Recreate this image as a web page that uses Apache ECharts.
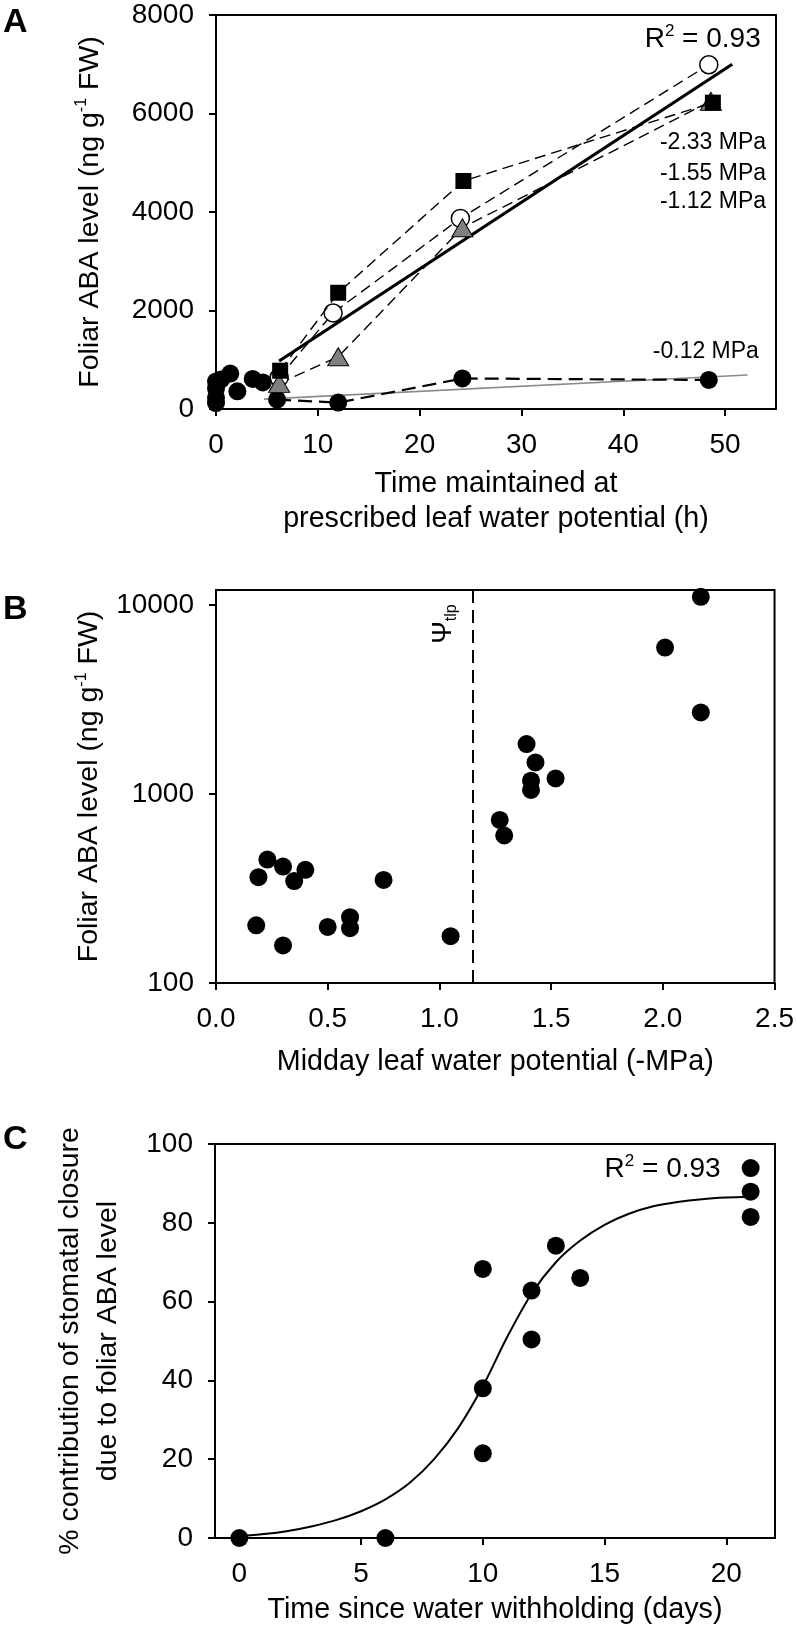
<!DOCTYPE html>
<html><head><meta charset="utf-8">
<script src="https://cdn.jsdelivr.net/npm/echarts@6/dist/echarts.min.js"></script>
<style>html,body{margin:0;padding:0;background:#fff}#c{width:797px;height:1630px}</style>
</head><body><div id="c"></div>
<script>
const FONT = '"Liberation Sans", Arial, sans-serif';

// ---------- Panel A data ----------
const aClusterX = [0, 0, 0, 0, 0.5, 1.4, 2.1, 3.6, 4.6];
const aClusterY = [120, 230, 420, 560, 600, 720, 360, 610, 540];
const aSqX = [6.3, 12, 24.3, 48.8];      // -2.33 MPa
const aSqY = [778, 2360, 4630, 6220];
const aOpenX = [6.2, 11.5, 24, 48.4];    // -1.55 MPa
const aOpenY = [640, 1950, 3870, 6990];
const aTriX = [6.2, 12, 24.2, 48.6];     // -1.12 MPa
const aTriY = [520, 1060, 3680, 6250];
const aLowX = [6, 12, 24.2, 48.4];       // -0.12 MPa
const aLowY = [190, 130, 620, 590];
const aFitX = [6.2, 50.7];
const aFitY = [975, 7000];
const aFitLowX = [4.7, 52.2];
const aFitLowY = [200, 690];
const aXTicks = [0, 10, 20, 30, 40, 50];
const aYTicks = [0, 2000, 4000, 6000, 8000];

// ---------- Panel B data ----------
const bX = [0.19, 0.23, 0.30, 0.35, 0.40, 0.75, 0.18, 0.30, 0.50, 0.60, 0.60, 1.05,
            1.27, 1.29, 1.39, 1.43, 1.41, 1.41, 1.52, 2.01, 2.17, 2.17];
const bY = [363, 450, 413, 346, 397, 351, 202, 158, 198, 223, 195, 177,
            729, 603, 1837, 1468, 1176, 1050, 1208, 5950, 11050, 2700];
const bTlp = 1.15;
const bXTicks = [0, 0.5, 1.0, 1.5, 2.0, 2.5];
const bYTicks = [100, 1000, 10000];

// ---------- Panel C data ----------
const cX = [0, 6, 10, 10, 10, 12, 12, 13, 14, 21, 21, 21];
const cY = [0, 0, 68.3, 38.0, 21.5, 62.8, 50.4, 74.2, 66.0, 93.9, 87.9, 81.5];
const cCurveX = [0, 1, 2, 3, 4, 5, 6, 7, 8, 9, 10, 11, 12, 13, 14, 15, 16, 17, 18, 19, 20, 21];
const cCurveY = [0.5, 1.0, 1.8, 3.0, 4.6, 6.8, 9.8, 14.0, 20.0, 28.0, 38.5, 51.0, 62.0, 70.0, 75.5, 79.5, 82.3, 84.2, 85.3, 86.0, 86.4, 86.6];
const cXTicks = [0, 5, 10, 15, 20];
const cYTicks = [0, 20, 40, 60, 80, 100];

const zip = (xs, ys) => xs.map((x, i) => [x, ys[i]]);

const chart = echarts.init(document.getElementById('c'), null, {renderer: 'canvas'});

const tickFont = {fontSize: 28, fontFamily: FONT, color: '#000'};
const axLine = {show: true, onZero: false, lineStyle: {color: '#000', width: 2}};
const axTick = (vals) => ({show: true, inside: false, length: 7, lineStyle: {color: '#000', width: 2}, customValues: vals});
const axLabel = (vals, margin, fmt) => Object.assign({show: true, margin: margin, customValues: vals,
  formatter: fmt || (v => String(v))}, tickFont);
const nameStyle = (fs, lh) => ({fontSize: fs, fontFamily: FONT, color: '#000', lineHeight: lh,
  rich: {s: {fontSize: 16, fontFamily: FONT, color: '#000', verticalAlign: 'top', lineHeight: 16}}});

const gridBase = {show: true, borderColor: '#000', borderWidth: 2, backgroundColor: 'transparent', containLabel: false};
const black = {color: '#000', opacity: 1};

const option = {
  animation: false,
  backgroundColor: '#fff',
  grid: [
    Object.assign({left: 216, top: 15, width: 560, height: 394}, gridBase),
    Object.assign({left: 216, top: 590, width: 559, height: 393}, gridBase),
    Object.assign({left: 215, top: 1144, width: 560, height: 394}, gridBase)
  ],
  xAxis: [
    {gridIndex: 0, type: 'value', min: 0, max: 55, splitLine: {show: false}, axisLine: axLine,
     axisTick: axTick(aXTicks), axisLabel: axLabel(aXTicks, 22),
     name: 'Time maintained at\nprescribed leaf water potential (h)', nameLocation: 'middle', nameGap: 58,
     nameTextStyle: nameStyle(28.7, 35)},
    {gridIndex: 1, type: 'value', min: 0, max: 2.5, splitLine: {show: false}, axisLine: axLine,
     axisTick: axTick(bXTicks), axisLabel: axLabel(bXTicks, 22, v => v.toFixed(1)),
     name: 'Midday leaf water potential (-MPa)', nameLocation: 'middle', nameGap: 63,
     nameTextStyle: nameStyle(28.7, 32)},
    {gridIndex: 2, type: 'value', min: -1, max: 22, splitLine: {show: false}, axisLine: axLine,
     axisTick: axTick(cXTicks), axisLabel: axLabel(cXTicks, 22),
     name: 'Time since water withholding (days)', nameLocation: 'middle', nameGap: 56,
     nameTextStyle: nameStyle(28.7, 32)}
  ],
  yAxis: [
    {gridIndex: 0, type: 'value', min: 0, max: 8000, interval: 2000, splitLine: {show: false}, axisLine: axLine,
     axisTick: axTick(aYTicks), axisLabel: axLabel(aYTicks, 22),
     name: 'Foliar ABA level (ng g{s|-1} FW)', nameLocation: 'middle', nameGap: 110, nameRotate: 90,
     nameTextStyle: nameStyle(28.5, 32)},
    {gridIndex: 1, type: 'log', logBase: 10, min: 100, max: 12000, splitLine: {show: false}, axisLine: axLine,
     axisTick: axTick(bYTicks), axisLabel: axLabel(bYTicks, 22),
     name: 'Foliar ABA level (ng g{s|-1} FW)', nameLocation: 'middle', nameGap: 110, nameRotate: 90,
     nameTextStyle: nameStyle(28.5, 32)},
    {gridIndex: 2, type: 'value', min: 0, max: 100, interval: 20, splitLine: {show: false}, axisLine: axLine,
     axisTick: axTick(cYTicks), axisLabel: axLabel(cYTicks, 22),
     name: '% contribution of stomatal closure\ndue to foliar ABA level', nameLocation: 'middle', nameGap: 88, nameRotate: 90,
     nameTextStyle: nameStyle(28.5, 38)}
  ],
  series: [
    // Panel A fit lines
    {type: 'line', xAxisIndex: 0, yAxisIndex: 0, data: zip(aFitLowX, aFitLowY), symbol: 'none',
     lineStyle: {color: '#8a8a8a', width: 1.6}, z: 1},
    {type: 'line', xAxisIndex: 0, yAxisIndex: 0, data: zip(aFitX, aFitY), symbol: 'none',
     lineStyle: {color: '#000', width: 3.2}, z: 3},
    // -0.12 MPa
    {type: 'line', xAxisIndex: 0, yAxisIndex: 0, data: zip(aLowX, aLowY), symbol: 'circle', symbolSize: 18,
     itemStyle: black, lineStyle: {color: '#000', width: 2.2, type: [14, 7]}, z: 4},
    // -1.55 MPa open circles
    {type: 'line', xAxisIndex: 0, yAxisIndex: 0, data: zip(aOpenX, aOpenY), symbol: 'circle', symbolSize: 18,
     itemStyle: {color: '#fff', borderColor: '#000', borderWidth: 1.5, opacity: 1}, lineStyle: {color: '#000', width: 1.4, type: [11, 6]}, z: 4},
    // -1.12 MPa triangles
    {type: 'line', xAxisIndex: 0, yAxisIndex: 0, data: zip(aTriX, aTriY), symbol: 'triangle', symbolSize: [21, 18],
     itemStyle: {color: '#808080', borderColor: '#000', borderWidth: 1, opacity: 1}, lineStyle: {color: '#000', width: 1.4, type: [11, 6]}, z: 4},
    // -2.33 MPa squares
    {type: 'line', xAxisIndex: 0, yAxisIndex: 0, data: zip(aSqX, aSqY), symbol: 'rect', symbolSize: 16,
     itemStyle: black, lineStyle: {color: '#000', width: 1.4, type: [11, 6]}, z: 5},
    // cluster near 0 h
    {type: 'scatter', xAxisIndex: 0, yAxisIndex: 0, data: zip(aClusterX, aClusterY), symbol: 'circle', symbolSize: 18,
     itemStyle: black, z: 5},
    // Panel B
    {type: 'scatter', xAxisIndex: 1, yAxisIndex: 1, data: zip(bX, bY), symbol: 'circle', symbolSize: 18,
     itemStyle: black, z: 5,
     markLine: {silent: true, symbol: 'none', label: {show: false},
       lineStyle: {color: '#000', width: 2, type: [13, 7]}, data: [{xAxis: bTlp}]}},
    // Panel C
    {type: 'line', xAxisIndex: 2, yAxisIndex: 2, data: zip(cCurveX, cCurveY), symbol: 'none', smooth: 0.3,
     lineStyle: {color: '#000', width: 2}, z: 3},
    {type: 'scatter', xAxisIndex: 2, yAxisIndex: 2, data: zip(cX, cY), symbol: 'circle', symbolSize: 18,
     itemStyle: black, z: 5}
  ]
};
chart.setOption(option);

// ---------- annotations ----------
const px = (g, p) => chart.convertToPixel({gridIndex: g}, p);
const richR = {
  n: {fontSize: 28, fontFamily: FONT, fill: '#000', lineHeight: 32},
  s: {fontSize: 17, fontFamily: FONT, fill: '#000', verticalAlign: 'top', lineHeight: 17}
};
const mk = (pos, text, opts) => Object.assign({type: 'text', x: pos[0], y: pos[1], z: 100,
  style: Object.assign({text: text, fill: '#000', font: '23px ' + FONT, align: 'left', verticalAlign: 'middle'}, opts || {})});

const pR_A = px(0, [42.1, 7510]);
const pM1 = px(0, [43.6, 5400]);
const pM2 = px(0, [43.6, 4770]);
const pM3 = px(0, [43.6, 4208]);
const pM4 = px(0, [42.9, 1163]);
const pPsi = px(1, [1.025, 7925]);
const pR_C = px(2, [15.0, 93.7]);

chart.setOption({
  graphic: [
    {type: 'text', x: 3, y: 6, style: {text: 'A', font: 'bold 34px ' + FONT, fill: '#000'}},
    {type: 'text', x: 3, y: 593, style: {text: 'B', font: 'bold 34px ' + FONT, fill: '#000'}},
    {type: 'text', x: 3, y: 1123, style: {text: 'C', font: 'bold 34px ' + FONT, fill: '#000'}},
    mk(pR_A, '{n|R}{s|2}{n| = 0.93}', {rich: richR}),
    mk(pM1, '-2.33 MPa'),
    mk(pM2, '-1.55 MPa'),
    mk(pM3, '-1.12 MPa'),
    mk(pM4, '-0.12 MPa'),
    {type: 'text', x: pPsi[0], y: pPsi[1], rotation: Math.PI / 2, z: 100,
     style: {text: '{p|Ψ}{t|tlp}', align: 'center', verticalAlign: 'middle',
       rich: {p: {fontSize: 27, fontFamily: FONT, fill: '#000', lineHeight: 30, verticalAlign: 'top'},
              t: {fontSize: 16, fontFamily: FONT, fill: '#000', lineHeight: 30, verticalAlign: 'bottom'}}}},
    mk(pR_C, '{n|R}{s|2}{n| = 0.93}', {rich: richR})
  ]
});
</script></body></html>
